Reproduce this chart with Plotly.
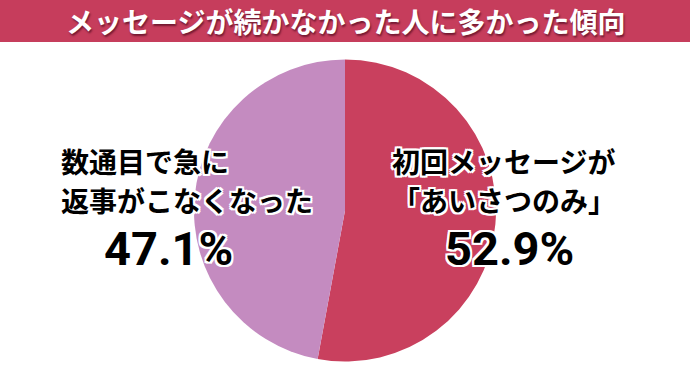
import plotly.graph_objects as go

W, H = 690, 381

title = "メッセージが続かなかった人に多かった傾向"
labels = ["初回メッセージが「あいさつのみ」", "数通目で急に返事がこなくなった"]
values = [52.9, 47.1]
colors = ["#c9405e", "#c48bc0"]
left_lines = ["数通目で急に", "返事がこなくなった"]
right_lines = ["初回メッセージが", "「あいさつのみ」"]

def px(x):
    return x / W

def py(y):
    return 1 - y / H

fig = go.Figure()
fig.add_trace(go.Pie(
    labels=labels, values=values, sort=False, direction="clockwise", rotation=0,
    marker=dict(colors=colors, line=dict(width=0)),
    textinfo="none", hoverinfo="label+percent", showlegend=False,
    domain=dict(x=[px(194), px(496)], y=[py(362), py(59)]),
))

outline = ("2px 0 0 #fff, -2px 0 0 #fff, 0 2px 0 #fff, 0 -2px 0 #fff, "
           "2px 2px 0 #fff, -2px -2px 0 #fff, 2px -2px 0 #fff, -2px 2px 0 #fff")
jp = "Noto Sans CJK JP"
num = "Roboto, Noto Sans CJK JP"

fig.add_shape(type="rect", xref="paper", yref="paper", x0=0, x1=1, y0=py(42), y1=1,
              fillcolor="#c63d5c", line=dict(width=0), layer="below")
fig.add_annotation(x=0.5, y=py(21), xref="paper", yref="paper", text=title, showarrow=False,
                   font=dict(family=jp, size=28, color="white", weight="bold",
                             shadow="1px 2px 2px rgba(60,0,20,0.6)"),
                   xanchor="center", yanchor="middle")

label_font = dict(family=jp, size=28, color="#000", weight="bold", shadow=outline)
for t, yy in zip(left_lines, [161, 200]):
    fig.add_annotation(x=px(60), y=py(yy), xref="paper", yref="paper", text=t,
                       showarrow=False, xanchor="left", yanchor="middle", borderpad=0,
                       font=label_font)
for t, yy in zip(right_lines, [161, 200]):
    fig.add_annotation(x=px(391), y=py(yy), xref="paper", yref="paper", text=t,
                       showarrow=False, xanchor="left", yanchor="middle", borderpad=0,
                       font=label_font)

pct_font = dict(family=num, size=47, color="#000", weight="bold", shadow=outline)
fig.add_annotation(x=px(168), y=py(249), xref="paper", yref="paper",
                   text=f"{values[1]:.1f}%", showarrow=False, xanchor="center", yanchor="middle",
                   borderpad=0, font=pct_font)
fig.add_annotation(x=px(509), y=py(249), xref="paper", yref="paper",
                   text=f"{values[0]:.1f}%", showarrow=False, xanchor="center", yanchor="middle",
                   borderpad=0, font=pct_font)

fig.update_layout(width=W, height=H, margin=dict(l=0, r=0, t=0, b=0),
                  paper_bgcolor="white", plot_bgcolor="white")
fig.write_html("out.html")
